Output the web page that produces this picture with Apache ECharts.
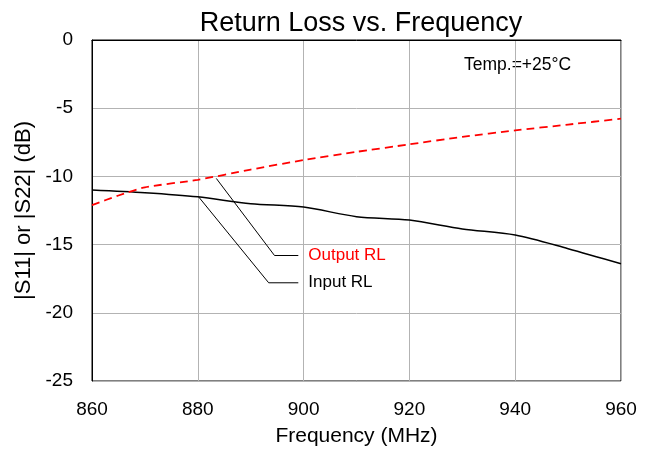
<!DOCTYPE html>
<html><head><meta charset="utf-8">
<script src="https://cdn.jsdelivr.net/npm/echarts@6/dist/echarts.min.js"></script>
<style>html,body{margin:0;padding:0;background:#fff}#c{width:651px;height:452px}</style>
</head><body><div id="c"></div>
<script>
const freqIn = [860, 870, 880, 890, 900, 910, 920, 930, 940, 950, 960];
const inputRL = [-11.0, -11.2, -11.5, -12.0, -12.25, -12.95, -13.2, -13.85, -14.3, -15.3, -16.4];
const freqOut = [860, 865, 870, 880, 890, 900, 910, 920, 930, 940, 950, 960];
const outputRL = [-12.1, -11.4, -10.8, -10.25, -9.5, -8.8, -8.2, -7.65, -7.1, -6.63, -6.2, -5.77];
const outLeader = [[883.5, -10.15], [894.5, -15.8], [899.0, -15.8]];
const inLeader = [[880.2, -11.52], [893.4, -17.8], [899.0, -17.8]];
const xTicks = [860, 880, 900, 920, 940, 960];
const yTicks = [0, -5, -10, -15, -20, -25];

const font = 'Liberation Sans, Arial, sans-serif';
const chart = echarts.init(document.getElementById('c'));
chart.setOption({
  animation: false,
  title: {text: 'Return Loss vs. Frequency', left: 356, top: 5, textAlign: 'center',
    textStyle: {fontFamily: font, fontSize: 27, fontWeight: 'normal', color: '#000'}},
  grid: {left: 92, right: 30, top: 40, bottom: 71, show: true, borderColor: '#000', borderWidth: 1},
  xAxis: {type: 'value', min: xTicks[0], max: xTicks[xTicks.length-1], interval: 20,
    name: 'Frequency (MHz)', nameLocation: 'middle', nameGap: 45,
    nameTextStyle: {fontFamily: font, fontSize: 21, color: '#000'},
    axisLine: {lineStyle: {color: '#000'}}, axisTick: {show: false},
    axisLabel: {fontFamily: font, fontSize: 19, color: '#000', margin: 19},
    splitLine: {lineStyle: {color: '#b3b3b3', width: 1}}},
  yAxis: {type: 'value', min: yTicks[yTicks.length-1], max: yTicks[0], interval: 5,
    name: '|S11| or |S22| (dB)', nameLocation: 'middle', nameGap: 57,
    nameTextStyle: {fontFamily: font, fontSize: 22, color: '#000'},
    axisLine: {lineStyle: {color: '#000'}}, axisTick: {show: false},
    axisLabel: {fontFamily: font, fontSize: 19, color: '#000', margin: 19},
    splitLine: {lineStyle: {color: '#b3b3b3', width: 1}}},
  graphic: [{type: 'text', left: 464, top: 56, style: {text: 'Temp.=+25°C', font: '17.5px ' + font, fill: '#000'}}],
  series: [
    {type: 'line', data: freqIn.map((f, i) => [f, inputRL[i]]), symbol: 'none', smooth: 0.3,
      lineStyle: {color: '#000', width: 1.5}, z: 3},
    {type: 'line', data: freqOut.map((f, i) => [f, outputRL[i]]), symbol: 'none', smooth: 0.2,
      lineStyle: {color: '#ff0000', width: 1.8, type: [8, 5]}, z: 4},
    {type: 'line', data: outLeader, symbol: 'none', lineStyle: {color: '#000', width: 1},
      endLabel: {show: true, formatter: 'Output RL', fontFamily: font, fontSize: 17, color: '#ff0000', distance: 10}},
    {type: 'line', data: inLeader, symbol: 'none', lineStyle: {color: '#000', width: 1},
      endLabel: {show: true, formatter: 'Input RL', fontFamily: font, fontSize: 17, color: '#000', distance: 10}}
  ]
});
</script></body></html>
